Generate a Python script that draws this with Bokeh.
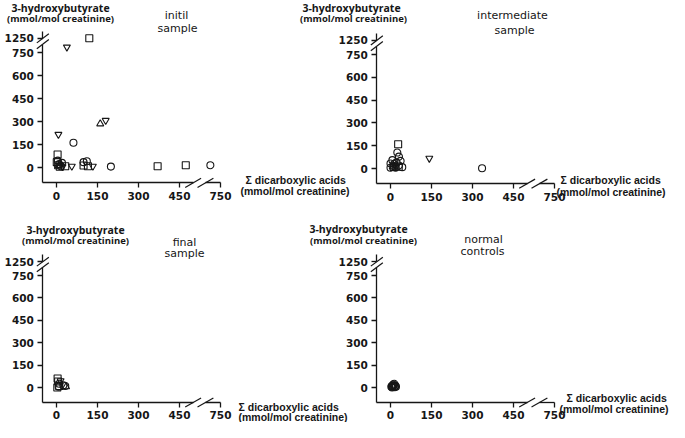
from bokeh.plotting import figure
from bokeh.models import Range1d, LinearAxis, FixedTicker, Label
from bokeh.embed import file_html
from bokeh.resources import INLINE

# ---------------- data (mmol/mol creatinine) ----------------
x_ticks = [0, 150, 300, 450, 750]
y_ticks = [0, 150, 300, 450, 600, 750, 1250]
titles = [["initil", "sample"], ["intermediate", "sample"],
          ["final", "sample"], ["normal", "controls"]]
y_label_lines = ["3-hydroxybutyrate", "(mmol/mol creatinine)"]
x_label_lines = ["\u03a3 dicarboxylic acids", "(mmol/mol creatinine)"]

# initial sample
init_sq_x = [120, 4, 1, 6, 12, 32, 99, 115, 370, 496]
init_sq_y = [1250, 85, 35, 15, 5, 8, 13, 8, 8, 15]
init_ci_x = [62, 5, 10, 16, 20, 99, 111, 199, 676]
init_ci_y = [161, 45, 22, 8, 30, 35, 41, 6, 15]
init_td_x = [38, 7, 180, 22, 56, 133]
init_td_y = [940, 216, 307, 5, 8, 8]
init_tu_x = [160, 8]
init_tu_y = [285, 12]

# intermediate sample
inter_sq_x = [28, 12, 30]
inter_sq_y = [160, 10, 12]
inter_ci_x = [25, 31, 7, 37, 0, 13, 31, 0, 19, 43, 335, 10, 22]
inter_ci_y = [105, 78, 55, 50, 33, 30, 20, 5, 5, 9, 2, 18, 40]
inter_td_x = [142, 20]
inter_td_y = [67, 12]
inter_tu_x = [8]
inter_tu_y = [10]

# final sample
final_sq_x = [4, 6, 10, 3]
final_sq_y = [60, 40, 10, 0]
final_ci_x = [10, 25, 32, 8]
final_ci_y = [25, 15, 10, 5]
final_td_x = [15]
final_td_y = [45]
final_tu_x = [35]
final_tu_y = [5]

# normal controls
ctrl_ci_x = [5, 8, 12, 15, 10, 18, 6, 20, 14, 9, 3, 16]
ctrl_ci_y = [10, 5, 15, 8, 20, 12, 0, 5, 25, 12, 5, 2]


# ---------------- broken-axis display transforms ----------------
def xd(v):
    return v if v <= 450 else 450 + (v - 450) * 0.5


def yd(v):
    return v if v <= 750 else 750 + (v - 750) * 93 / 500


W, H = 669, 422
KX = 0.2733
INK = "#161616"

p = figure(width=W, height=H, x_range=Range1d(0, W), y_range=Range1d(H, 0),
           x_axis_type=None, y_axis_type=None, min_border=0,
           toolbar_location=None, output_backend="svg", title=None)
p.outline_line_color = None
p.background_fill_color = "white"
p.border_fill_color = "white"

COLS = [-2, -13]
ROWS = [0, -11]


def cv(col, row, x, y):
    return x + COLS[col], y + ROWS[row]


panels = [
    dict(col=0, row=0, x0=58, y0=167, ky=0.1533,
         series=[("square", init_sq_x, init_sq_y), ("circle", init_ci_x, init_ci_y),
                 ("inverted_triangle", init_td_x, init_td_y), ("triangle", init_tu_x, init_tu_y)],
         ylab=[(62, 7), (62, 18)], tit=[(178, 15), (179, 28)], xlab=[(247, 179), (242, 190)]),
    dict(col=1, row=0, x0=403, y0=168, ky=0.152,
         series=[("square", inter_sq_x, inter_sq_y), ("circle", inter_ci_x, inter_ci_y),
                 ("inverted_triangle", inter_td_x, inter_td_y), ("triangle", inter_tu_x, inter_tu_y)],
         ylab=[(364, 7), (366, 18)], tit=[(525, 15), (527, 30)], xlab=[(573, 179), (569, 191)]),
    dict(col=0, row=1, x0=58, y0=398, ky=0.1493,
         series=[("square", final_sq_x, final_sq_y), ("circle", final_ci_x, final_ci_y),
                 ("inverted_triangle", final_td_x, final_td_y), ("triangle", final_tu_x, final_tu_y)],
         ylab=[(77, 240), (77, 251)], tit=[(186, 253), (186, 264)], xlab=[(240, 417), (240, 427)]),
    dict(col=1, row=1, x0=403, y0=398, ky=0.1493,
         series=[("circle", ctrl_ci_x, ctrl_ci_y)],
         ylab=[(371, 239), (376, 251)], tit=[(496, 250), (495, 262)], xlab=[(579, 408), (572, 419)]),
]

X_LO, X_HI = -50, 600      # display extent of x axis
Y_LO, Y_HI = -100, 890     # display extent of y axis
XB = (500, 545)            # x-axis break (display)
YB = (805, yd(1250))       # y-axis break (display)


def axis(side, rx, ry, loc, bounds, ticks_val, disp):
    ticks = [disp(t) for t in ticks_val]
    ax = LinearAxis(x_range_name=rx, y_range_name=ry, fixed_location=loc, bounds=bounds,
                    ticker=FixedTicker(ticks=ticks, minor_ticks=[]),
                    major_label_overrides={int(round(d)): str(t) for d, t in zip(ticks, ticks_val)},
                    axis_line_color=INK, axis_line_width=1.3,
                    major_tick_line_color=INK, major_tick_line_width=1.3,
                    major_tick_out=5, major_tick_in=0, minor_tick_out=0, minor_tick_in=0,
                    major_label_text_font="DejaVu Sans", major_label_text_font_size="10.5px",
                    major_label_text_font_style="bold",
                    major_label_text_color=INK, major_label_standoff=4)
    p.add_layout(ax, side)


for i, pn in enumerate(panels):
    col, row = pn["col"], pn["row"]
    ox = pn["x0"] + COLS[col]
    oy = pn["y0"] + ROWS[row]
    ky = pn["ky"]
    rx, ry = "x%d" % i, "y%d" % i
    xs = -ox / KX
    p.extra_x_ranges[rx] = Range1d(xs, xs + W / KX)
    ys = -(H - oy) / ky
    p.extra_y_ranges[ry] = Range1d(ys, ys + H / ky)

    # axes with breaks
    axis("below", rx, ry, Y_LO, (X_LO, XB[0]), x_ticks[:4], xd)
    axis("below", rx, ry, Y_LO, (XB[1], X_HI), x_ticks[4:], xd)
    axis("left", rx, ry, X_LO, (Y_LO, YB[0]), y_ticks[:6], yd)
    axis("left", rx, ry, X_LO, (YB[1], Y_HI), y_ticks[6:], yd)

    # break slashes
    sx0 = [XB[0] - 29, XB[1] - 29, X_LO - 22, X_LO - 22]
    sx1 = [XB[0] + 29, XB[1] + 29, X_LO + 22, X_LO + 22]
    sy0 = [Y_LO - 30, Y_LO - 30, YB[0] - 30, YB[1] - 30]
    sy1 = [Y_LO + 30, Y_LO + 30, YB[0] + 30, YB[1] + 30]
    p.segment(x0=sx0, y0=sy0, x1=sx1, y1=sy1, line_color=INK, line_width=1.2,
              x_range_name=rx, y_range_name=ry)

    for marker, vx, vy in pn["series"]:
        p.scatter(x=[xd(v) for v in vx], y=[yd(v) for v in vy], marker=marker,
                  size=7, line_color=INK, line_width=1.1, fill_color=None,
                  x_range_name=rx, y_range_name=ry)

    # texts
    for j, (tx, ty) in enumerate(pn["ylab"]):
        x, y = cv(col, row, tx, ty)
        p.add_layout(Label(x=x, y=y, text=y_label_lines[j], text_align="center",
                           text_baseline="middle", text_font="Open Sans",
                           text_font_style="bold", text_color=INK,
                           text_font_size="10.5px" if j == 0 else "9.5px"))
    for j, (tx, ty) in enumerate(pn["tit"]):
        x, y = cv(col, row, tx, ty)
        p.add_layout(Label(x=x, y=y, text=titles[i][j], text_align="center",
                           text_baseline="middle", text_font="DejaVu Sans",
                           text_color=INK, text_font_size="11px"))
    for j, (tx, ty) in enumerate(pn["xlab"]):
        x, y = cv(col, row, tx, ty)
        p.add_layout(Label(x=x, y=y, text=x_label_lines[j], text_align="left",
                           text_baseline="middle", text_font="Liberation Sans",
                           text_font_style="bold", text_color=INK, text_font_size="10.5px"))

open("out.html", "w").write(file_html(p, INLINE))
